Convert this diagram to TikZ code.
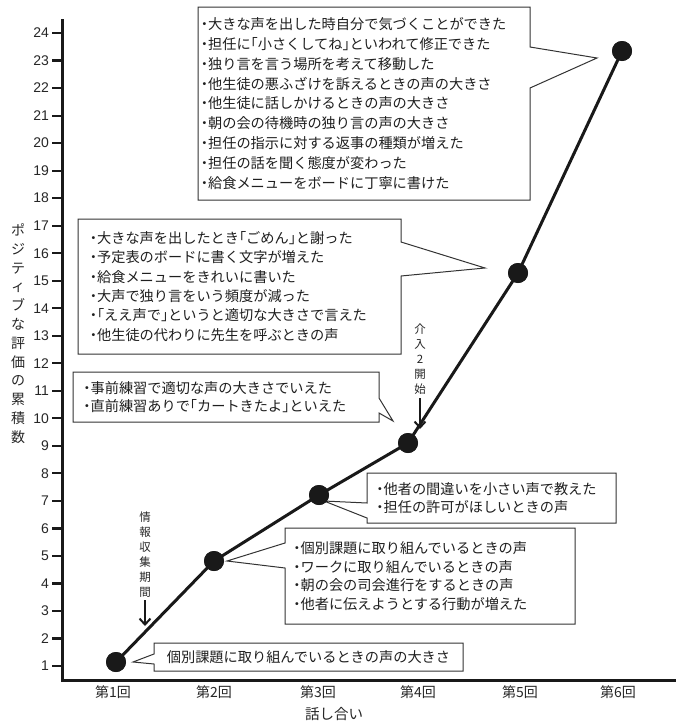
\documentclass[tikz,border=0pt]{standalone}
\usepackage{fontspec}
\setmainfont{Noto Sans CJK JP}
\newfontfamily\jphalf[RawFeature=+halt]{Noto Sans CJK JP}
\newfontfamily\arialfont{Liberation Sans}
\newcommand\jdot{{\jphalf ・}}
\newcommand\jlb{{\jphalf 「}}
\newcommand\jrb{{\jphalf 」}}
\usetikzlibrary{calc,arrows.meta}
\pgfdeclarelayer{bg}
\pgfsetlayers{bg,main}
\begin{document}
\begin{tikzpicture}[x=1pt,y=-1pt,
  every node/.style={inner sep=0pt, outer sep=0pt},
  callbox/.style={anchor=north west, align=left, text=black!88, inner ysep=0pt},
  outline/.style={draw=black!80, line width=1pt, fill=white, line join=miter},
  plotline/.style={line width=3pt, draw=black!90, line join=round},
  dot/.style={circle, fill=black!90, minimum size=20pt},
  axisline/.style={line width=3pt, draw=black!90},
  tickmark/.style={line width=2.2pt, draw=black!90},
  ticklabel/.style={font=\arialfont\fontsize{14}{14}\selectfont, anchor=east, text=black!85},
  xlabel/.style={font=\fontsize{14}{14}\selectfont, text=black!85},
  vlabel/.style={font=\fontsize{11.5}{15}\selectfont, align=center, text=black!85},
  notearrow/.style={-{Straight Barb[length=6pt,width=11pt,line width=2pt]}, line width=2.2pt, draw=black!90}
]
\useasboundingbox (0,0) rectangle (676,723);

% axes
\coordinate (otop) at (62,19);
\coordinate (orig) at (62,680);
\coordinate (xend) at (676,680);
\draw[axisline] (otop) -- (orig) -- (xend);
\foreach \n in {1,...,24}{
  \pgfmathsetmacro{\yy}{666-27.52*(\n-1)}
  \coordinate (tk\n) at (52,\yy);
  \coordinate (tb\n) at (62,\yy);
  \draw[tickmark] (tk\n) -- (tb\n);
  \node[ticklabel] (tl\n) at (49,\yy) {\n};
}
\node[font=\fontsize{14}{18.8}\selectfont, align=center, text=black!85] (ylab) at (18,333.5)
  {ポ\\ジ\\テ\\ィ\\ブ\\な\\評\\価\\の\\累\\積\\数};

\node[xlabel] (x1) at (113,692) {第1回};
\node[xlabel] (x2) at (214,692) {第2回};
\node[xlabel] (x3) at (318,692) {第3回};
\node[xlabel] (x4) at (418,692) {第4回};
\node[xlabel] (x5) at (520,692) {第5回};
\node[xlabel] (x6) at (618,692) {第6回};
\node[font=\fontsize{14.5}{14.5}\selectfont, text=black!85] (xlab) at (334,714) {話し合い};

% callout boxes
\node[callbox, font=\fontsize{14.2}{19.8}\selectfont, minimum width=332pt, minimum height=193pt, inner xsep=3pt, text width=326pt] (bA) at (198,7)
{\jdot 大きな声を出した時自分で気づくことができた\\
\jdot 担任に\jlb 小さくしてね\jrb といわれて修正できた\\
\jdot 独り言を言う場所を考えて移動した\\
\jdot 他生徒の悪ふざけを訴えるときの声の大きさ\\
\jdot 他生徒に話しかけるときの声の大きさ\\
\jdot 朝の会の待機時の独り言の声の大きさ\\
\jdot 担任の指示に対する返事の種類が増えた\\
\jdot 担任の話を聞く態度が変わった\\
\jdot 給食メニューをボードに丁寧に書けた};

\node[callbox, font=\fontsize{14.2}{19.3}\selectfont, minimum width=323pt, minimum height=135pt, inner xsep=12pt, text width=299pt] (bB) at (78,219)
{\jdot 大きな声を出したとき\jlb ごめん\jrb と謝った\\
\jdot 予定表のボードに書く文字が増えた\\
\jdot 給食メニューをきれいに書いた\\
\jdot 大声で独り言をいう頻度が減った\\
\jdot \jlb ええ声で\jrb というと適切な大きさで言えた\\
\jdot 他生徒の代わりに先生を呼ぶときの声};

\node[callbox, font=\fontsize{14.2}{18.5}\selectfont, minimum width=306pt, minimum height=50pt, inner xsep=10.5pt, text width=285pt] (bC) at (73,372)
{\jdot 事前練習で適切な声の大きさでいえた\\
\jdot 直前練習ありで\jlb カートきたよ\jrb といえた};

\node[callbox, font=\fontsize{14.2}{18.5}\selectfont, minimum width=249pt, minimum height=50pt, inner xsep=9.5pt, text width=230pt] (bD) at (367,473)
{\jdot 他者の間違いを小さい声で教えた\\
\jdot 担任の許可がほしいときの声};

\node[callbox, font=\fontsize{14.2}{18.7}\selectfont, minimum width=290pt, minimum height=96pt, inner xsep=8.5pt, text width=273pt] (bE) at (285,528)
{\jdot 個別課題に取り組んでいるときの声\\
\jdot ワークに取り組んでいるときの声\\
\jdot 朝の会の司会進行をするときの声\\
\jdot 他者に伝えようとする行動が増えた};

\node[anchor=north west, font=\fontsize{14.2}{14.2}\selectfont, text=black!88, minimum width=309pt, minimum height=28pt, align=center] (bF) at (154,643)
{個別課題に取り組んでいるときの声の大きさ};

% pointer tips
\coordinate (tA) at (597,58);
\coordinate (tB) at (485,268);
\coordinate (tC) at (393,421);
\coordinate (tD) at (324,501);
\coordinate (tE) at (227,561);
\coordinate (tF) at (133,662);

\begin{pgfonlayer}{bg}
\draw[outline] (bA.north west) -- (bA.north east) -- ($(bA.north east)+(0,40)$) -- (tA) -- ($(bA.north east)+(0,81)$) -- (bA.south east) -- (bA.south west) -- cycle;
\draw[outline] (bB.north west) -- (bB.north east) -- ($(bB.north east)+(0,23)$) -- (tB) -- ($(bB.north east)+(0,57)$) -- (bB.south east) -- (bB.south west) -- cycle;
\draw[outline] (bC.north west) -- (bC.north east) -- ($(bC.north east)+(0,26)$) -- (tC) -- ($(bC.north east)+(0,41)$) -- (bC.south east) -- (bC.south west) -- cycle;
\draw[outline] (bD.north west) -- (bD.north east) -- (bD.south east) -- (bD.south west) -- ($(bD.north west)+(0,45)$) -- (tD) -- ($(bD.north west)+(0,30)$) -- cycle;
\draw[outline] (bE.north west) -- (bE.north east) -- (bE.south east) -- (bE.south west) -- ($(bE.north west)+(0,40)$) -- (tE) -- ($(bE.north west)+(0,15)$) -- cycle;
\draw[outline] (bF.north west) -- (bF.north east) -- (bF.south east) -- (bF.south west) -- ($(bF.north west)+(0,21)$) -- (tF) -- ($(bF.north west)+(0,11)$) -- cycle;
\end{pgfonlayer}

% data
\node[dot] (p1) at (116,662) {};
\node[dot] (p2) at (214,561) {};
\node[dot] (p3) at (319,495) {};
\node[dot] (p4) at (408,443) {};
\node[dot] (p5) at (518,273) {};
\node[dot] (p6) at (622,51) {};
\draw[plotline] (p1.center) -- (p2.center) -- (p3.center) -- (p4.center) -- (p5.center) -- (p6.center);
\foreach \p in {p1,p2,p3,p4,p5,p6}{\node[dot] at (\p) {};}

% annotations
\node[vlabel] (n1) at (145,554.5) {情\\報\\収\\集\\期\\間};
\coordinate (a1) at (145,626);
\draw[notearrow, shorten <=3pt] (n1.south) -- (a1);
\node[vlabel] (n2) at (420,359) {介\\入\\2\\開\\始};
\coordinate (a2) at (420,429);
\draw[notearrow, shorten <=4pt] (n2.south) -- (a2);
\end{tikzpicture}
\end{document}
